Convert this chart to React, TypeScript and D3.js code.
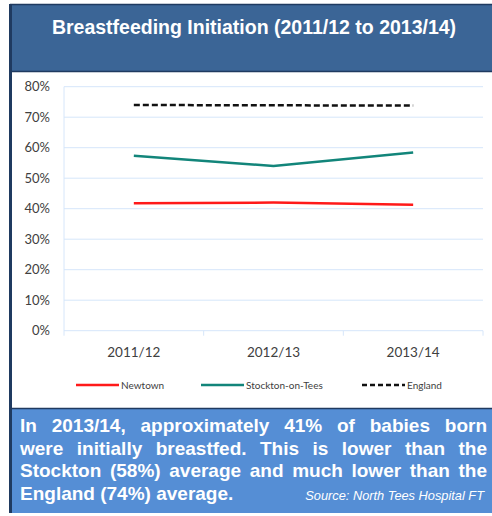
import * as d3 from 'd3';

const categories = ['2011/12', '2012/13', '2013/14'];
const newtown = [41.8, 42.0, 41.3];
const stockton = [57.4, 54.0, 58.4];
const england = [74.0, 73.9, 73.8];
const yTicks = [0, 10, 20, 30, 40, 50, 60, 70, 80];

const seriesList = [
  { name: 'Newtown', values: newtown, color: '#ff1a1a', dash: '' },
  { name: 'Stockton-on-Tees', values: stockton, color: '#12857a', dash: '' },
  { name: 'England', values: england, color: '#111111', dash: '6,3' },
];

const noteLines = [
  'In 2013/14, approximately 41% of babies born',
  'were initially breastfed. This is lower than the',
  'Stockton (58%) average and much lower than the',
];

const W = 492;
const H = 516;
const NOTE_FONT = "bold 19px 'Liberation Sans'";

// word spacing so each line fills the box width (justified text)
function justifySpacing(text: string, width: number) {
  const ctx = document.createElement('canvas').getContext('2d');
  if (!ctx) return 0;
  ctx.font = NOTE_FONT;
  const gaps = text.split(' ').length - 1;
  return Math.max(0, (width - ctx.measureText(text).width) / gaps);
}

export default function App() {
  const x = d3.scaleBand<string>().domain(categories).range([64, 483]);
  const y = d3.scaleLinear().domain([0, 80]).range([330.7, 86.7]);
  const line = d3
    .line<number>()
    .x((_, i) => (x(categories[i]) ?? 0) + x.bandwidth() / 2)
    .y((d) => y(d));

  const legendX = [76, 201, 362];

  return (
    <svg
      width={W}
      height={H}
      style={{ position: 'absolute', left: 0, top: 0 }}
      fontFamily="Lato, sans-serif"
    >
      <rect x={0} y={0} width={W} height={H} fill="#ffffff" />
      {/* header */}
      <rect x={10} y={4} width={W - 10} height={68} fill="#3b6596" />
      <line x1={10} x2={W} y1={4.5} y2={4.5} stroke="#1f3a60" strokeWidth={1.5} />
      <line x1={10} x2={W} y1={71.5} y2={71.5} stroke="#1f3a60" strokeWidth={1.5} />
      <text
        x={254}
        y={34}
        textAnchor="middle"
        fill="#ffffff"
        fontFamily="'Liberation Sans', Arial, sans-serif"
        fontWeight="bold"
        fontSize={19.5}
      >
        Breastfeeding Initiation (2011/12 to 2013/14)
      </text>

      {/* grid */}
      {yTicks.map((t) => (
        <g key={t}>
          <line x1={x.range()[0]} x2={x.range()[1]} y1={y(t)} y2={y(t)} stroke="#d6e6fa" strokeWidth={1} />
          <text x={50} y={y(t) + 4.5} textAnchor="end" fontSize={13} fill="#404040">
            {t}%
          </text>
        </g>
      ))}
      <line x1={64} x2={64} y1={y(80)} y2={y(0) + 5} stroke="#d6e6fa" />
      {categories.map((c) => (
        <line
          key={c}
          x1={(x(c) ?? 0) + x.bandwidth()}
          x2={(x(c) ?? 0) + x.bandwidth()}
          y1={y(0)}
          y2={y(0) + 5}
          stroke="#d6e6fa"
        />
      ))}
      {categories.map((c) => (
        <text
          key={c}
          x={(x(c) ?? 0) + x.bandwidth() / 2}
          y={357}
          textAnchor="middle"
          fontSize={13.5}
          fill="#404040"
        >
          {c}
        </text>
      ))}

      {/* series */}
      {seriesList.map((s) => (
        <path
          key={s.name}
          d={line(s.values) ?? ''}
          fill="none"
          stroke={s.color}
          strokeWidth={2.5}
          strokeDasharray={s.dash}
        />
      ))}

      {/* legend */}
      {seriesList.map((s, i) => (
        <g key={s.name}>
          <line
            x1={legendX[i]}
            x2={legendX[i] + 43}
            y1={385}
            y2={385}
            stroke={s.color}
            strokeWidth={2.5}
            strokeDasharray={s.dash ? '5,3' : ''}
          />
          <text x={legendX[i] + 45} y={388.5} fontSize={10} fill="#404040">
            {s.name}
          </text>
        </g>
      ))}

      {/* note box */}
      <rect x={10} y={409} width={W - 10} height={104} fill="#558ed5" />
      <line x1={10} x2={W} y1={408.5} y2={408.5} stroke="#1f3a60" strokeWidth={1.5} />
      <line x1={10.5} x2={10.5} y1={4} y2={513} stroke="#1f3a60" strokeWidth={3} />
      <g fontFamily="'Liberation Sans', Arial, sans-serif" fontWeight="bold" fill="#ffffff" fontSize={19}>
        {noteLines.map((l, i) => (
          <text key={i} x={20} y={432 + i * 22.7} style={{ wordSpacing: `${justifySpacing(l, 467)}px` }}>
            {l}
          </text>
        ))}
        <text x={20} y={432 + 3 * 22.7}>England (74%) average.</text>
      </g>
      <text
        x={484}
        y={500}
        textAnchor="end"
        fill="#ffffff"
        fontFamily="'Liberation Sans', Arial, sans-serif"
        fontStyle="italic"
        fontSize={12.8}
      >
        Source: North Tees Hospital FT
      </text>
    </svg>
  );
}
